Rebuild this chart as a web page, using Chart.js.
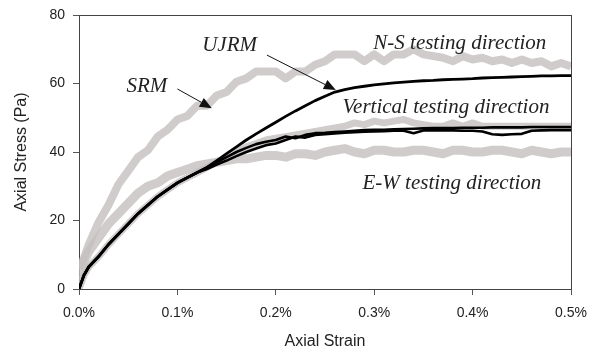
<!DOCTYPE html>
<html><head><meta charset="utf-8">
<script src="https://cdn.jsdelivr.net/npm/chart.js@4"></script>
<style>html,body{margin:0;padding:0;background:#fff}</style>
</head><body>
<canvas id="c" width="592" height="357"></canvas>
<script>
const strain = [0,0.005,0.01,0.02,0.03,0.04,0.05,0.06,0.07,0.08,0.09,0.10,0.11,0.12,0.13,0.14,0.15,0.16,0.17,0.18,0.19,0.20,0.21,0.22,0.23,0.24,0.25,0.26,0.27,0.28,0.29,0.30,0.31,0.32,0.33,0.34,0.35,0.36,0.37,0.38,0.39,0.40,0.41,0.42,0.43,0.44,0.45,0.46,0.47,0.48,0.49,0.50];
const nsTest = [6,9,13,19.5,24.5,30.5,34.5,38.5,40.5,44.5,46.5,49.5,50.5,53.5,53.5,56.5,57.5,60.5,61.5,63.5,63.5,63.5,61.5,63.5,63.5,65.5,66.5,68.5,68.5,68.5,66.5,68.5,66.5,68.5,68.5,70,68.5,68,67.5,66.5,68,67,67.5,66.5,67,66,67,66,66.5,65,66,65];
const vertTest = [0,4,6.5,9.5,13,16,19,22,24.5,27,29,31,32.5,34,35.5,37,38.5,40,41.5,42.5,43.5,44,44.5,45,45.5,46,46.5,47,47.5,48.5,48,49,48.5,49,49.5,48.5,48,47.5,47.5,48.5,47.5,48.5,47.5,47.5,47.5,47.5,47.5,47.5,47.5,47.5,47.5,47.5];
const ewTest = [3,8,11,15,19,22,25,28,30,31,33,34,35,36,36.5,37,37.5,38,38,38.5,39,39,38.5,39.5,39.5,39,40,40.5,41,40,39.5,40.5,40.5,40,40,40.5,40.5,40,39.5,40.5,40.5,40,40,40.5,40.5,40,39.5,40.5,40,39.5,40,40];
const ujrm = [0,4,6.5,9.5,13,16,19,22,24.5,27,29,31,32.5,34,35.5,37.5,39.5,41.5,43.5,45.3,47,48.7,50.4,52,53.5,55,56.3,57.5,58.2,58.8,59.2,59.6,59.9,60.2,60.4,60.6,60.8,60.9,61.1,61.2,61.3,61.4,61.6,61.7,61.8,61.9,62,62.1,62.2,62.2,62.3,62.3];
const srmA = [0,4,6.5,9.5,13,16,19,22,24.5,27,29,31,32.5,34,35.5,37,38.5,40,41.2,42.3,43,43.5,44.5,44,45,45.5,45.6,45.8,46,46.2,46.4,46.5,46.5,46.6,46.7,46.8,46.9,47,47,47,47.1,47.1,47.1,47.2,47.2,47.2,47.2,47.3,47.3,47.3,47.3,47.3];
const srmB = [0,4,6.5,9.5,13,16,19,22,24.5,27,29,31,32.5,34,35,36.3,37.5,38.8,40,41,42,42.5,43.5,44.5,44.2,45,45.2,45.4,45.6,45.8,45.9,46,46.1,46.2,46.2,45.5,46.3,46.3,46.3,46.3,46.2,46.2,46,45.2,45,45.2,45.3,46.2,46.3,46.4,46.4,46.4];
const xTicks = [0,0.1,0.2,0.3,0.4,0.5];
const yTicks = [0,20,40,60,80];
const labels = [
  {text:'UJRM', x:0.153, y:71.2},
  {text:'SRM', x:0.069, y:59.0},
  {text:'N-S testing direction', x:0.387, y:71.8},
  {text:'Vertical testing direction', x:0.373, y:53.1},
  {text:'E-W testing direction', x:0.379, y:30.9}
];
const arrows = [
  {x1:0.100, y1:58.4, x2:0.135, y2:52.8},
  {x1:0.191, y1:68.3, x2:0.261, y2:58.1}
];

const pts = arr => arr.map((v,i)=>({x:strain[i], y:v}));
const grayC = 'rgba(196,191,191,0.8)';
const ds = (data, color, w, order) => ({data: pts(data), borderColor: color, borderWidth: w, pointRadius: 0, tension: 0, fill: false, order: order, borderJoinStyle:'round'});

const annot = {
  id: 'annot',
  beforeDatasetsDraw(chart) {
    const {ctx, chartArea: a} = chart;
    ctx.save();
    ctx.strokeStyle = '#444';
    ctx.lineWidth = 1;
    ctx.strokeRect(a.left + 0.5, a.top + 0.5, a.right - a.left, a.bottom - a.top);
    ctx.restore();
  },
  afterDatasetsDraw(chart) {
    const {ctx, scales: {x, y}} = chart;
    ctx.save();
    ctx.fillStyle = '#222';
    ctx.font = 'italic 21px "Liberation Serif"';
    ctx.textAlign = 'center';
    ctx.textBaseline = 'middle';
    labels.forEach(l => ctx.fillText(l.text, x.getPixelForValue(l.x), y.getPixelForValue(l.y)));
    ctx.strokeStyle = '#111';
    ctx.fillStyle = '#111';
    ctx.lineWidth = 1;
    arrows.forEach(ar => {
      const x1 = x.getPixelForValue(ar.x1), y1 = y.getPixelForValue(ar.y1);
      const x2 = x.getPixelForValue(ar.x2), y2 = y.getPixelForValue(ar.y2);
      const ang = Math.atan2(y2 - y1, x2 - x1);
      const L = 12, W = 5;
      ctx.beginPath(); ctx.moveTo(x1, y1); ctx.lineTo(x2 - L*Math.cos(ang), y2 - L*Math.sin(ang)); ctx.stroke();
      ctx.beginPath();
      ctx.moveTo(x2, y2);
      ctx.lineTo(x2 - L*Math.cos(ang) + W*Math.sin(ang), y2 - L*Math.sin(ang) - W*Math.cos(ang));
      ctx.lineTo(x2 - L*Math.cos(ang) - W*Math.sin(ang), y2 - L*Math.sin(ang) + W*Math.cos(ang));
      ctx.closePath(); ctx.fill();
    });
    ctx.restore();
  }
};

const tickFont = {family: '"Liberation Sans", Arial', size: 14};
const titleFont = {family: '"Liberation Sans", Arial', size: 16};

new Chart(document.getElementById('c'), {
  type: 'line',
  data: {
    datasets: [
      ds(nsTest, grayC, 8, 3),
      ds(vertTest, grayC, 7, 3),
      ds(ewTest, grayC, 9, 3),
      ds(ujrm, '#000', 2.8, 1),
      ds(srmA, '#000', 2.6, 1),
      ds(srmB, '#000', 2.6, 1)
    ]
  },
  options: {
    responsive: false,
    animation: false,
    layout: {padding: {left: 8, right: 21, top: 15, bottom: 0}},
    plugins: {legend: {display: false}, tooltip: {enabled: false}},
    scales: {
      x: {
        type: 'linear', min: 0, max: 0.5,
        afterBuildTicks: s => { s.ticks = xTicks.map(v => ({value: v})); },
        afterFit: s => { s.height = 68; s.paddingLeft = 0; s.paddingRight = 0; },
        ticks: {callback: v => v.toFixed(1) + '%', color: '#222', font: tickFont, padding: 10, maxRotation: 0},
        grid: {display: true, drawOnChartArea: false, drawTicks: true, tickLength: 6, color: '#555'},
        border: {display: true, color: '#444'},
        title: {display: true, text: 'Axial Strain', color: '#222', font: titleFont, padding: {top: 4, bottom: 6}}
      },
      y: {
        min: 0, max: 80,
        afterBuildTicks: s => { s.ticks = yTicks.map(v => ({value: v})); },
        afterFit: s => { s.width = 71; s.paddingTop = 0; s.paddingBottom = 0; },
        ticks: {color: '#222', font: tickFont, padding: 8},
        grid: {display: true, drawOnChartArea: false, drawTicks: true, tickLength: 6, color: '#555'},
        border: {display: true, color: '#444'},
        title: {display: true, text: 'Axial Stress (Pa)', color: '#222', font: titleFont, padding: {top: 4, bottom: 4}}
      }
    }
  },
  plugins: [annot]
});
</script>
</body></html>
